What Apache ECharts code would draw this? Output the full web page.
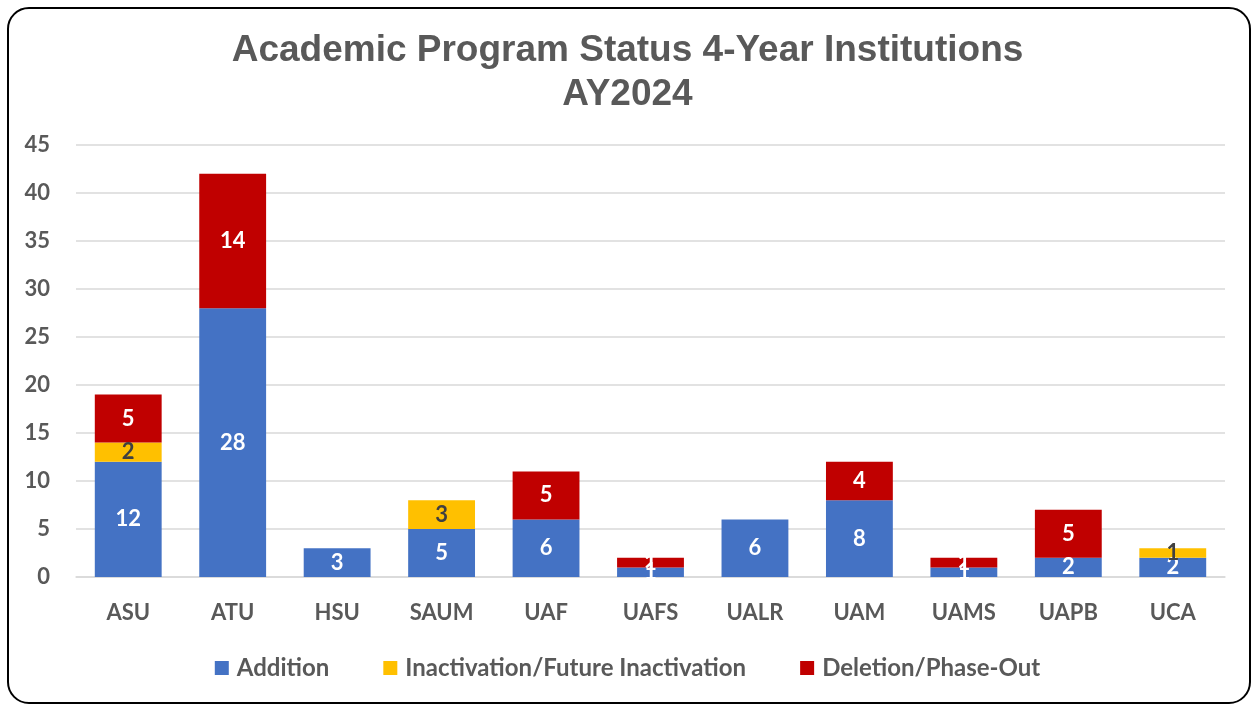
<!DOCTYPE html>
<html><head><meta charset="utf-8">
<script src="https://cdn.jsdelivr.net/npm/echarts@6/dist/echarts.min.js"></script>
<style>
html,body{margin:0;padding:0;background:#fff;}
#frame{position:absolute;left:7px;top:7px;width:1244px;height:697px;border:2px solid #000;border-radius:22px;box-sizing:border-box;}
#c{position:absolute;left:0;top:0;width:1255px;height:708px;}
</style></head>
<body>
<div id="frame"></div>
<div id="c"></div>
<script>
const categories = ['ASU','ATU','HSU','SAUM','UAF','UAFS','UALR','UAM','UAMS','UAPB','UCA'];
const addition = [12,28,3,5,6,1,6,8,1,2,2];
const inactivation = [2,null,null,3,null,null,null,null,null,null,1];
const deletion = [5,14,null,null,5,1,null,4,1,5,null];
const seriesNames = ['Addition','Inactivation/Future Inactivation','Deletion/Phase-Out'];
const colors = ['#4472C4','#FFC000','#C00000'];
const yTicks = [0,5,10,15,20,25,30,35,40,45];

const font = 'Lato, "Open Sans", sans-serif';
const chart = echarts.init(document.getElementById('c'));
function lbl(color){
  return {show:true, position:'inside', color:color, fontSize:22, fontWeight:'bold', fontFamily:font,
    formatter: p => (p.value==null ? '' : p.value)};
}
chart.setOption({
  animation:false,
  title:{text:'Academic Program Status 4-Year Institutions\nAY2024', left:'center', top:24,
    textStyle:{fontFamily:'"Liberation Sans", Arial, sans-serif', fontSize:37, fontWeight:'bold', color:'#595959', lineHeight:44}},
  grid:{left:76, right:30, top:145, bottom:131, containLabel:false},
  legend:{top:651, left:'center', itemWidth:14, itemHeight:14, itemGap:54, icon:'rect',
    textStyle:{fontFamily:font, fontSize:24, fontWeight:'bold', color:'#595959', padding:[0,0,0,3]},
    data:seriesNames},
  xAxis:{type:'category', data:categories,
    axisLine:{lineStyle:{color:'#D9D9D9', width:1.5}}, axisTick:{show:false},
    axisLabel:{fontFamily:font, fontSize:22, fontWeight:'bold', color:'#595959', margin:25}},
  yAxis:{type:'value', min:yTicks[0], max:yTicks[yTicks.length-1], interval:5,
    axisLine:{show:false}, axisTick:{show:false},
    splitLine:{lineStyle:{color:'#D9D9D9', width:1.5}},
    axisLabel:{fontFamily:font, fontSize:22, fontWeight:'bold', color:'#595959', margin:26}},
  series:[
    {name:seriesNames[0], type:'bar', stack:'s', data:addition, barWidth:'64%', itemStyle:{color:colors[0]}, label:lbl('#FFFFFF')},
    {name:seriesNames[1], type:'bar', stack:'s', data:inactivation, barWidth:'64%', itemStyle:{color:colors[1]}, label:lbl('#404040')},
    {name:seriesNames[2], type:'bar', stack:'s', data:deletion, barWidth:'64%', itemStyle:{color:colors[2]}, label:lbl('#FFFFFF')}
  ]
});
</script>
</body></html>
